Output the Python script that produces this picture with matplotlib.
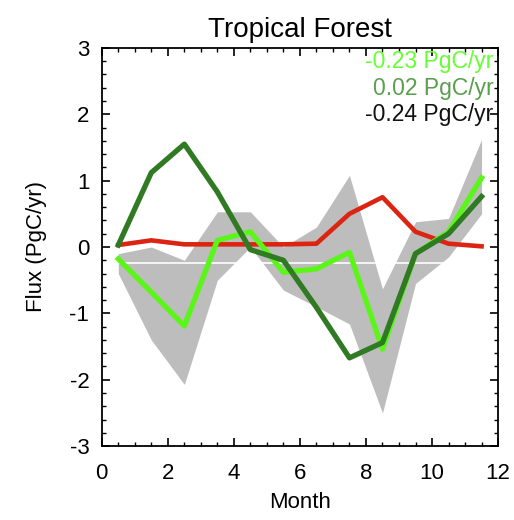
import matplotlib
matplotlib.use('Agg')
import matplotlib.pyplot as plt
import numpy as np
from matplotlib.ticker import MultipleLocator

plt.rcParams['font.family'] = ['Liberation Sans', 'DejaVu Sans']
plt.rcParams['axes.unicode_minus'] = False

# monthly values, plotted at mid-month
month = [0.5, 1.5, 2.5, 3.5, 4.5, 5.5, 6.5, 7.5, 8.5, 9.5, 10.5, 11.5]
band_hi = [-0.10, 0.00, -0.20, 0.53, 0.53, 0.00, 0.30, 1.08, -0.63, 0.38, 0.43, 1.62]
band_lo = [-0.40, -1.40, -2.07, -0.50, 0.00, -0.65, -0.90, -1.16, -2.50, -0.55, -0.15, 0.50]
light_green = [-0.18, -0.68, -1.19, 0.10, 0.23, -0.38, -0.33, -0.08, -1.54, -0.10, 0.23, 1.04]
dark_green = [0.03, 1.12, 1.55, 0.83, -0.04, -0.20, -0.91, -1.67, -1.44, -0.10, 0.20, 0.76]
red = [0.03, 0.10, 0.04, 0.04, 0.04, 0.04, 0.05, 0.50, 0.75, 0.23, 0.05, 0.01]
mean_line = -0.24
labels = ['-0.23 PgC/yr', '0.02 PgC/yr', '-0.24 PgC/yr']
label_colors = ['#66ff33', '#5a9e50', '#111111']

fig = plt.figure(figsize=(5.14, 5.20), dpi=100)
ax = fig.add_axes([0.198, 0.142, 0.771, 0.766])

ax.fill_between(month, band_lo, band_hi, color='#bdbdbd', linewidth=0)
ax.axhline(mean_line, color='white', lw=1.2)
ax.plot(month, red, color='#dc2412', lw=3.3)
ax.plot(month, light_green, color='#5cf51a', lw=3.8)
ax.plot(month, dark_green, color='#2f7a22', lw=3.8)

for i, (t, c) in enumerate(zip(labels, label_colors)):
    ax.text(0.988, 0.965 - i * 0.066, t, color=c, fontsize=16.5,
            ha='right', va='center', transform=ax.transAxes)

ax.set_xlim(0, 12)
ax.set_ylim(-3, 3)
ax.xaxis.set_major_locator(MultipleLocator(2))
ax.xaxis.set_minor_locator(MultipleLocator(0.5))
ax.yaxis.set_major_locator(MultipleLocator(1))
ax.yaxis.set_minor_locator(MultipleLocator(0.2))
ax.tick_params(which='both', direction='in', top=True, right=True, labelsize=16)
ax.tick_params(which='major', length=6, width=1.2)
ax.tick_params(which='minor', length=3, width=1)
ax.tick_params(axis='x', pad=12)
ax.tick_params(axis='y', pad=9)
for s in ax.spines.values():
    s.set_linewidth(1.3)

ax.set_xlabel('Month', fontsize=16, labelpad=6)
ax.set_ylabel('Flux (PgC/yr)', fontsize=16, labelpad=16)
ax.set_title('Tropical Forest', fontsize=20, pad=8)

fig.savefig('out.png', dpi=100)
